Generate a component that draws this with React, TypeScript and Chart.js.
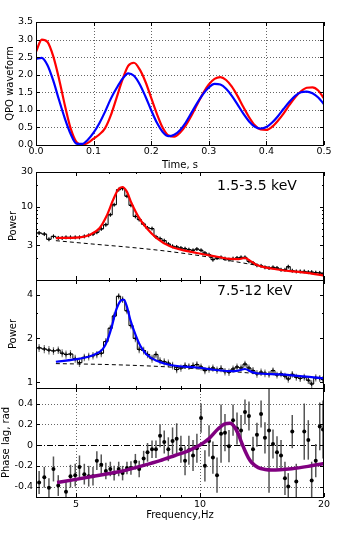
import React, { useEffect, useRef } from "react";
import { Chart, registerables } from "chart.js";
Chart.register(...registerables);

const FONT = "'DejaVu Sans', 'Liberation Sans', sans-serif";

// ---------- top panel: QPO waveform ----------
const timeS = [0.00,0.01,0.02,0.03,0.04,0.05,0.06,0.07,0.08,0.09,0.10,0.11,0.12,0.13,0.14,0.15,0.16,0.17,0.18,0.19,0.20,0.21,0.22,0.23,0.24,0.25,0.26,0.27,0.28,0.29,0.30,0.31,0.32,0.33,0.34,0.35,0.36,0.37,0.38,0.39,0.40,0.41,0.42,0.43,0.44,0.45,0.46,0.47,0.48,0.49,0.50];
const redWave = [2.65,3.00,2.93,2.52,1.88,1.14,0.48,0.09,0.01,0.06,0.18,0.30,0.48,0.85,1.35,1.85,2.25,2.34,2.15,1.80,1.34,0.88,0.49,0.27,0.24,0.35,0.56,0.84,1.16,1.47,1.72,1.88,1.93,1.85,1.66,1.39,1.08,0.79,0.56,0.44,0.43,0.52,0.69,0.90,1.14,1.36,1.53,1.63,1.64,1.55,1.33];
const blueWave = [2.45,2.48,2.27,1.83,1.28,0.76,0.32,0.04,0.03,0.15,0.35,0.62,0.95,1.32,1.62,1.88,2.04,1.97,1.73,1.38,0.99,0.63,0.37,0.25,0.29,0.42,0.64,0.92,1.20,1.45,1.64,1.74,1.72,1.60,1.40,1.15,0.89,0.67,0.52,0.47,0.51,0.64,0.82,1.03,1.23,1.40,1.50,1.52,1.47,1.35,1.16];
const timeTicks = [0, 0.1, 0.2, 0.3, 0.4, 0.5];
const waveTicks = [0, 0.5, 1.0, 1.5, 2.0, 2.5, 3.0, 3.5];

// ---------- power spectra ----------
const powFreq = [3.96,4.07,4.19,4.30,4.41,4.53,4.63,4.73,4.85,4.98,5.10,5.24,5.37,5.50,5.62,5.76,5.91,6.06,6.19,6.35,6.49,6.65,6.80,6.97,7.12,7.30,7.46,7.65,7.82,8.00,8.19,8.38,8.58,8.78,8.99,9.20,9.40,9.62,9.83,10.06,10.28,10.52,10.75,11.00,11.25,11.50,11.76,12.03,12.30,12.58,12.86,13.15,13.45,13.75,14.07,14.38,14.71,15.04,15.38,15.73,16.08,16.38,16.75,17.13,17.51,17.91,18.32,18.67,19.10,19.53,19.89];
const pow1 = [4.4,4.4,4.25,3.6,3.95,3.76,3.76,3.83,3.83,3.83,3.83,3.95,4.08,4.25,4.5,5.0,5.7,7.8,10.7,17.2,17.8,14.0,10.5,7.4,6.7,5.8,5.15,5.05,3.9,3.68,3.45,3.1,2.89,2.83,2.74,2.68,2.6,2.55,2.65,2.55,2.34,2.22,1.9,2.0,2.04,1.96,1.9,1.96,2.0,2.04,2.04,1.8,1.71,1.59,1.56,1.49,1.46,1.49,1.46,1.38,1.38,1.52,1.34,1.31,1.31,1.31,1.28,1.28,1.26,1.25,1.21];
const pow1Err = [0.2,0.2,0.2,0.17,0.18,0.17,0.17,0.17,0.17,0.17,0.17,0.18,0.18,0.19,0.2,0.22,0.25,0.33,0.45,0.7,0.72,0.58,0.44,0.32,0.29,0.25,0.22,0.22,0.17,0.16,0.15,0.14,0.13,0.13,0.12,0.12,0.12,0.11,0.12,0.11,0.1,0.1,0.09,0.09,0.09,0.09,0.09,0.09,0.09,0.09,0.09,0.08,0.08,0.07,0.07,0.07,0.07,0.07,0.07,0.06,0.06,0.07,0.06,0.06,0.06,0.06,0.06,0.06,0.06,0.06,0.06];
const pow2 = [1.72,1.72,1.69,1.66,1.64,1.66,1.58,1.55,1.56,1.45,1.36,1.48,1.50,1.52,1.55,1.58,1.9,2.35,2.85,3.9,3.7,3.1,2.45,2.0,1.68,1.65,1.55,1.45,1.55,1.40,1.38,1.35,1.30,1.22,1.25,1.30,1.28,1.30,1.32,1.27,1.20,1.23,1.25,1.21,1.24,1.18,1.17,1.23,1.27,1.25,1.33,1.25,1.20,1.14,1.17,1.15,1.13,1.20,1.12,1.14,1.10,1.05,1.13,1.08,1.06,1.08,1.03,0.97,1.07,1.06,1.04];
const pow2Err = [0.11,0.11,0.11,0.11,0.1,0.1,0.1,0.1,0.1,0.09,0.09,0.09,0.09,0.09,0.09,0.1,0.11,0.13,0.16,0.2,0.2,0.17,0.14,0.12,0.1,0.1,0.09,0.09,0.09,0.08,0.08,0.08,0.08,0.07,0.07,0.07,0.07,0.07,0.07,0.07,0.07,0.07,0.07,0.07,0.07,0.07,0.07,0.07,0.07,0.07,0.07,0.07,0.07,0.07,0.07,0.07,0.06,0.06,0.06,0.06,0.06,0.06,0.06,0.06,0.06,0.06,0.06,0.06,0.06,0.06,0.06];

const red1F = [4.47,5.11,5.41,5.71,5.93,6.16,6.33,6.48,6.64,6.82,7.08,7.42,7.85,8.46,9.82,11.0,11.83,12.4,12.86,13.3,13.7,15.6,18.2,20.0];
const red1V = [3.75,3.83,4.17,5.15,7.43,12.6,17.2,18.7,16.3,11.3,7.43,5.15,3.75,2.89,2.34,2.08,1.94,1.93,2.0,1.8,1.62,1.38,1.25,1.15];
const dash1F = [4.47,5.5,6.76,8.2,10,13.2,16,20];
const dash1V = [3.45,3.1,2.8,2.5,2.15,1.65,1.38,1.15];

const blue2F = [4.47,5.11,5.5,5.8,5.93,6.1,6.25,6.41,6.53,6.64,6.77,6.97,7.17,7.42,7.85,8.46,9.82,11.83,12.4,12.86,13.3,13.7,15.6,20];
const blue2V = [1.38,1.45,1.53,1.68,1.87,2.37,3.09,3.62,3.7,3.35,2.71,2.13,1.77,1.55,1.40,1.31,1.26,1.19,1.20,1.23,1.18,1.15,1.13,1.06];
const dash2F = [4.47,6,8,10,12,14,17,20];
const dash2V = [1.34,1.32,1.28,1.23,1.18,1.14,1.10,1.06];

// ---------- phase lag ----------
const phaseFreq = [4.07,4.19,4.30,4.41,4.53,4.73,4.85,4.98,5.10,5.24,5.37,5.50,5.62,5.76,5.91,6.06,6.19,6.35,6.49,6.65,6.80,6.97,7.12,7.30,7.46,7.65,7.82,8.00,8.19,8.38,8.58,8.78,8.99,9.20,9.40,9.62,9.83,10.06,10.28,10.52,10.75,11.00,11.25,11.50,11.76,12.03,12.30,12.58,12.86,13.15,13.45,13.75,14.07,14.38,14.71,15.04,15.38,15.73,16.08,16.38,16.75,17.13,17.91,18.32,18.67,19.10,19.53,19.89];
const phaseLag = [-0.36,-0.31,-0.41,-0.23,-0.39,-0.45,-0.30,-0.29,-0.21,-0.28,-0.30,-0.30,-0.15,-0.19,-0.25,-0.23,-0.27,-0.23,-0.27,-0.22,-0.22,-0.16,-0.23,-0.13,-0.07,-0.04,-0.04,0.09,0.03,-0.04,0.04,0.06,-0.04,-0.15,-0.05,-0.10,-0.03,0.26,-0.20,0.04,-0.12,-0.29,0.11,0.12,-0.01,0.24,0.16,0.14,0.32,0.28,-0.04,0.10,0.30,0.07,0.14,0.01,-0.07,-0.10,-0.32,-0.40,0.13,-0.35,0.13,0.05,-0.34,-0.15,0.18,0.15];
const phaseErr = [0.11,0.1,0.09,0.12,0.1,0.1,0.11,0.11,0.11,0.1,0.1,0.09,0.09,0.1,0.08,0.07,0.07,0.07,0.07,0.06,0.065,0.075,0.08,0.075,0.09,0.085,0.085,0.11,0.11,0.115,0.13,0.15,0.13,0.14,0.14,0.15,0.14,0.14,0.15,0.15,0.155,0.17,0.28,0.18,0.155,0.15,0.155,0.15,0.12,0.14,0.12,0.115,0.13,0.15,0.6,0.14,0.155,0.15,0.16,0.13,0.16,0.17,0.27,0.19,0.18,0.16,0.23,0.28];
const phModF = [4.5,5.0,5.7,6.4,7.15,8.0,8.7,9.3,10.0,10.5,11.06,11.5,11.83,12.1,12.39,12.6,12.86,13.1,13.35,13.85,14.4,14.93,16.7,18.3,20];
const phModV = [-0.36,-0.33,-0.29,-0.255,-0.205,-0.15,-0.10,-0.06,0.0,0.06,0.155,0.205,0.21,0.18,0.107,0.03,-0.055,-0.12,-0.168,-0.217,-0.235,-0.24,-0.227,-0.205,-0.178];

const freqTicks = [5, 10, 20];
const freqMinor = [6, 7, 8, 9];
const pow1Ticks = [3, 10, 30];
const pow2Ticks = [1, 2, 4];
const phaseTicks = [-0.4, -0.2, 0, 0.2, 0.4];

// ---------- helpers ----------
const xy = (xs: number[], ys: number[]) => xs.map((x, i) => ({ x, y: ys[i] }));
const fixed = (vals: number[]) => (s: any) => { s.ticks = vals.map((v) => ({ value: v })); };
const tickFont = { family: FONT, size: 9.5 };
const titleFont = { family: FONT, size: 10 };

type Err = { xs: number[]; ys: number[]; es: number[]; color: string; width: number };
type PanelCfg = {
  xGrid?: number[]; yGrid?: number[];
  xMajor: number[]; xMinor?: number[]; yMajor: number[]; yMinor?: number[];
  errs?: Err[]; zero?: boolean;
  label?: { text: string; dx: number; dy: number };
};

function panelPlugin(cfg: PanelCfg) {
  return {
    id: "panel",
    beforeDatasetsDraw(chart: any) {
      const { ctx, chartArea: a, scales } = chart;
      const xs = scales.x, ys = scales.y;
      ctx.save();
      ctx.beginPath();
      ctx.rect(a.left, a.top, a.right - a.left, a.bottom - a.top);
      ctx.clip();
      ctx.strokeStyle = "rgba(0,0,0,0.6)";
      ctx.lineWidth = 1;
      ctx.setLineDash([1, 2]);
      (cfg.xGrid || []).forEach((v) => {
        const p = Math.round(xs.getPixelForValue(v)) + 0.5;
        ctx.beginPath(); ctx.moveTo(p, a.top); ctx.lineTo(p, a.bottom); ctx.stroke();
      });
      (cfg.yGrid || []).forEach((v) => {
        const p = Math.round(ys.getPixelForValue(v)) + 0.5;
        ctx.beginPath(); ctx.moveTo(a.left, p); ctx.lineTo(a.right, p); ctx.stroke();
      });
      if (cfg.zero) {
        ctx.strokeStyle = "#000";
        ctx.setLineDash([6, 2, 1, 2]);
        const p = Math.round(ys.getPixelForValue(0)) + 0.5;
        ctx.beginPath(); ctx.moveTo(a.left, p); ctx.lineTo(a.right, p); ctx.stroke();
      }
      ctx.setLineDash([]);
      (cfg.errs || []).forEach((e) => {
        ctx.strokeStyle = e.color;
        ctx.lineWidth = e.width;
        e.xs.forEach((f, i) => {
          const x = xs.getPixelForValue(f);
          ctx.beginPath();
          ctx.moveTo(x, ys.getPixelForValue(e.ys[i] - e.es[i]));
          ctx.lineTo(x, ys.getPixelForValue(e.ys[i] + e.es[i]));
          ctx.stroke();
        });
      });
      ctx.restore();
    },
    afterDatasetsDraw(chart: any) {
      const { ctx, chartArea: a, scales } = chart;
      const xs = scales.x, ys = scales.y;
      ctx.save();
      ctx.strokeStyle = "#000";
      ctx.lineWidth = 1;
      const tx = (vals: number[], len: number) => vals.forEach((v) => {
        const p = Math.round(xs.getPixelForValue(v)) + 0.5;
        ctx.beginPath();
        ctx.moveTo(p, a.bottom); ctx.lineTo(p, a.bottom - len);
        ctx.moveTo(p, a.top); ctx.lineTo(p, a.top + len);
        ctx.stroke();
      });
      const ty = (vals: number[], len: number) => vals.forEach((v) => {
        const p = Math.round(ys.getPixelForValue(v)) + 0.5;
        ctx.beginPath();
        ctx.moveTo(a.left, p); ctx.lineTo(a.left + len, p);
        ctx.moveTo(a.right, p); ctx.lineTo(a.right - len, p);
        ctx.stroke();
      });
      tx(cfg.xMajor, 4); tx(cfg.xMinor || [], 2);
      ty(cfg.yMajor, 4); ty(cfg.yMinor || [], 2);
      ctx.strokeRect(a.left + 0.5, a.top + 0.5, a.right - a.left - 1, a.bottom - a.top);
      if (cfg.label) {
        ctx.fillStyle = "#000";
        ctx.font = `14px ${FONT}`;
        ctx.textBaseline = "alphabetic";
        ctx.textAlign = "left";
        ctx.fillText(cfg.label.text, a.left + cfg.label.dx, a.top + cfg.label.dy);
      }
      ctx.restore();
    },
  };
}

const baseOpts = (pad: any) => ({
  responsive: false,
  animation: false as const,
  events: [] as any[],
  layout: { padding: pad },
  plugins: { legend: { display: false }, tooltip: { enabled: false } },
});

const yAxis = (extra: any, title: string, titlePad: number) => ({
  grid: { display: false, drawTicks: false },
  border: { display: false },
  ticks: { font: tickFont, color: "#000", padding: 3, autoSkip: false },
  title: { display: true, text: title, font: titleFont, color: "#000", padding: { top: titlePad, bottom: 0 } },
  afterFit: (s: any) => { s.width = 36; },
  ...extra,
});

function cfgWave(): any {
  return {
    type: "line",
    data: {
      datasets: [
        { data: xy(timeS, blueWave), borderColor: "#0000ff", borderWidth: 2.2, pointRadius: 0, cubicInterpolationMode: "monotone" },
        { data: xy(timeS, redWave), borderColor: "#ff0000", borderWidth: 2.2, pointRadius: 0, cubicInterpolationMode: "monotone" },
      ],
    },
    options: {
      ...baseOpts({ left: 0, right: 36, top: 22, bottom: 368 }),
      scales: {
        x: {
          type: "linear", min: 0, max: 0.5,
          afterBuildTicks: fixed(timeTicks),
          grid: { display: false, drawTicks: false },
          border: { display: false },
          ticks: { font: tickFont, color: "#000", padding: 1, autoSkip: false, maxRotation: 0, callback: (v: number) => v.toFixed(1) },
          title: { display: true, text: "Time, s", font: titleFont, color: "#000", padding: { top: 0, bottom: 1 } },
          afterFit: (s: any) => { s.height = 27; },
        },
        y: yAxis({ type: "linear", min: 0, max: 3.5, afterBuildTicks: fixed(waveTicks),
          ticks: { font: tickFont, color: "#000", padding: 3, autoSkip: false, callback: (v: number) => v.toFixed(1) } }, "QPO waveform", 4),
      },
    },
    plugins: [panelPlugin({ xGrid: [0.1, 0.2, 0.3, 0.4], yGrid: [0.5, 1, 1.5, 2, 2.5, 3], xMajor: timeTicks, yMajor: waveTicks })],
  };
}

function cfgPower(top: number, bottom: number, hist: number[], err: number[], model: any[], dash: any[], color: string,
  yMin: number, yMax: number, yTicks: number[], yMinor: number[], label: string, labelDy: number, errColor: string): any {
  return {
    type: "line",
    data: {
      datasets: [
        { data: model, borderColor: color, borderWidth: 2.2, pointRadius: 0, cubicInterpolationMode: "monotone" },
        { data: dash, borderColor: "#000", borderWidth: 1, borderDash: [4, 3], pointRadius: 0, cubicInterpolationMode: "monotone" },
        { data: xy(powFreq, hist), borderColor: "#000", borderWidth: 1, stepped: "middle", pointStyle: "cross", pointRadius: 2, pointBorderColor: "#000", pointBorderWidth: 1 },
      ],
    },
    options: {
      ...baseOpts({ left: 0, right: 36, top, bottom: 540 - bottom }),
      scales: {
        x: { type: "logarithmic", min: 4, max: 20, display: false },
        y: yAxis({ type: "logarithmic", min: yMin, max: yMax, afterBuildTicks: fixed(yTicks),
          ticks: { font: tickFont, color: "#000", padding: 3, autoSkip: false, callback: (v: number) => String(v) } }, "Power", 7),
      },
    },
    plugins: [panelPlugin({
      xMajor: freqTicks, xMinor: freqMinor, yMajor: yTicks, yMinor,
      errs: [{ xs: powFreq, ys: hist, es: err, color: errColor, width: 1.2 }],
      label: { text: label, dx: 181, dy: labelDy },
    })],
  };
}

function cfgPhase(): any {
  return {
    type: "line",
    data: {
      datasets: [
        { data: xy(phModF, phModV), borderColor: "#800080", borderWidth: 3.5, pointRadius: 0, cubicInterpolationMode: "monotone" },
        { data: xy(phaseFreq, phaseLag), showLine: false, pointRadius: 2, pointBackgroundColor: "#000", pointBorderColor: "#000", pointBorderWidth: 0 },
      ],
    },
    options: {
      ...baseOpts({ left: 0, right: 36, top: 388, bottom: 18 }),
      scales: {
        x: {
          type: "logarithmic", min: 4, max: 20,
          afterBuildTicks: fixed(freqTicks),
          grid: { display: false, drawTicks: false },
          border: { display: false },
          ticks: { font: tickFont, color: "#000", padding: 2, autoSkip: false, maxRotation: 0, callback: (v: number) => String(v) },
          title: { display: true, text: "Frequency,Hz", font: titleFont, color: "#000", padding: { top: 0, bottom: 1 } },
          afterFit: (s: any) => { s.height = 25; },
        },
        y: yAxis({ type: "linear", min: -0.5, max: 0.55, afterBuildTicks: fixed(phaseTicks),
          ticks: { font: tickFont, color: "#000", padding: 3, autoSkip: false, callback: (v: number) => (v === 0 ? "0" : v.toFixed(1)) } }, "Phase lag, rad", 0),
      },
    },
    plugins: [panelPlugin({
      xGrid: [5, 10], yGrid: [-0.4, -0.2, 0.2, 0.4], zero: true,
      xMajor: freqTicks, xMinor: freqMinor, yMajor: phaseTicks,
      errs: [{ xs: phaseFreq, ys: phaseLag, es: phaseErr, color: "#555", width: 1.5 }],
    })],
  };
}

export default function App() {
  const r1 = useRef<HTMLCanvasElement>(null);
  const r2 = useRef<HTMLCanvasElement>(null);
  const r3 = useRef<HTMLCanvasElement>(null);
  const r4 = useRef<HTMLCanvasElement>(null);
  useEffect(() => {
    Chart.defaults.font.family = FONT;
    Chart.defaults.color = "#000";
    const charts = [
      new Chart(r1.current!, cfgWave()),
      new Chart(r2.current!, cfgPower(172, 280, pow1, pow1Err, xy(red1F, red1V), xy(dash1F, dash1V), "#ff0000",
        1, 30, pow1Ticks, [2, 4, 5, 6, 7, 8, 9, 20], "1.5-3.5 keV", 18, "#666")),
      new Chart(r3.current!, cfgPower(280, 388, pow2, pow2Err, xy(blue2F, blue2V), xy(dash2F, dash2V), "#0000ff",
        0.91, 5.05, pow2Ticks, [3], "7.5-12 keV", 15, "#777")),
      new Chart(r4.current!, cfgPhase()),
    ];
    return () => charts.forEach((c) => c.destroy());
  }, []);
  const refs = [r1, r2, r3, r4];
  return (
    <div style={{ position: "absolute", left: 0, top: 0, width: 360, height: 540, background: "#fff" }}>
      {refs.map((r, i) => (
        <canvas key={i} ref={r} width={360} height={540} style={{ position: "absolute", left: 0, top: 0 }} />
      ))}
    </div>
  );
}
